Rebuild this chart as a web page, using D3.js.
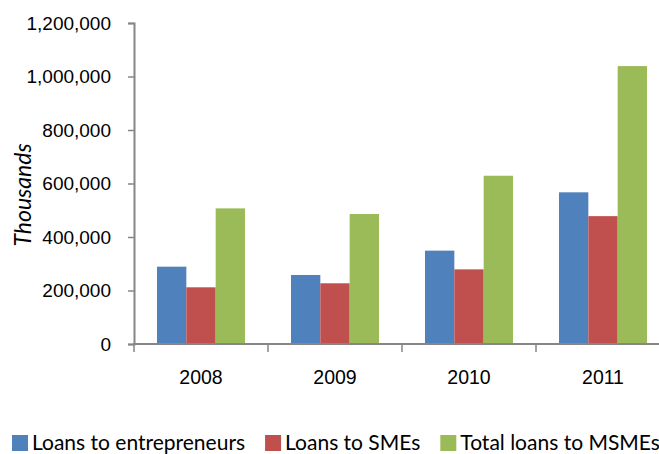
<!DOCTYPE html>
<html>
<head>
<meta charset="utf-8">
<script src="https://cdn.jsdelivr.net/npm/d3@7"></script>
<style>
  body { margin: 0; background: #fff; }
  svg { display: block; font-family: Lato, "Open Sans", sans-serif; }
</style>
</head>
<body>
<div id="chart"></div>
<script>
// data (thousands)
const years = ["2008", "2009", "2010", "2011"];
const seriesNames = ["Loans to entrepreneurs", "Loans to SMEs", "Total loans to MSMEs"];
const entrepreneurs = [289000, 258000, 349000, 567000];
const smes = [212000, 227000, 279000, 478000];
const msmes = [507000, 486000, 629000, 1039000];
const yTicks = [0, 200000, 400000, 600000, 800000, 1000000, 1200000];
const colors = ["#4F81BD", "#C0504D", "#9BBB59"];

const width = 659, height = 454;
const axisColor = "#868686";

const rows = years.map((y, i) => ({
    year: y,
    values: [entrepreneurs[i], smes[i], msmes[i]]
}));

const svg = d3.select("#chart")
    .append("svg")
    .attr("width", width)
    .attr("height", height);

// scales - plot is cut off on the right, like the picture
const x0 = d3.scaleBand()
    .domain(years)
    .range([134, 670])
    .paddingInner(46 / 134)
    .paddingOuter(23 / 134);

const x1 = d3.scaleBand()
    .domain(d3.range(seriesNames.length))
    .range([0, x0.bandwidth()]);

const yScale = d3.scaleLinear()
    .domain([0, 1200000])
    .range([344, 23]);

// bars
const groups = svg.selectAll(".year")
    .data(rows)
    .join("g")
    .attr("class", "year")
    .attr("transform", d => `translate(${x0(d.year)},0)`);

groups.selectAll("rect")
    .data(d => d.values.map((v, k) => ({ k, v })))
    .join("rect")
    .attr("x", d => x1(d.k))
    .attr("y", d => yScale(d.v))
    .attr("width", x1.bandwidth())
    .attr("height", d => yScale(0) - yScale(d.v))
    .attr("fill", d => colors[d.k]);

// y axis
const leftAxis = d3.axisLeft(yScale)
    .tickValues(yTicks)
    .tickSize(6)
    .tickPadding(17)
    .tickFormat(d3.format(","));

const yAxis = svg.append("g")
    .attr("class", "y-axis")
    .attr("transform", "translate(134,0)")
    .call(leftAxis);

yAxis.select(".domain").attr("stroke", axisColor).attr("stroke-width", 2);
yAxis.selectAll(".tick line").attr("stroke", axisColor).attr("stroke-width", 1.5);
yAxis.selectAll(".tick text")
    .style("font-size", "19px")
    .attr("fill", "#000");

// x axis: labels at centers, ticks at category boundaries
const bottomAxis = d3.axisBottom(x0)
    .tickSize(0)
    .tickPadding(26);

const xAxis = svg.append("g")
    .attr("class", "x-axis")
    .attr("transform", `translate(0,${yScale(0)})`)
    .call(bottomAxis);

xAxis.select(".domain").remove();
xAxis.selectAll(".tick text")
    .style("font-size", "19.5px")
    .attr("fill", "#000");

xAxis.append("line")
    .attr("x1", 133)
    .attr("x2", width)
    .attr("stroke", axisColor)
    .attr("stroke-width", 2);

const step = x0.step();
const bounds = years.map(y => x0(y) - step * x0.paddingOuter());
xAxis.selectAll(".bound")
    .data(bounds)
    .join("line")
    .attr("class", "bound")
    .attr("x1", d => d)
    .attr("x2", d => d)
    .attr("y1", 0)
    .attr("y2", 8)
    .attr("stroke", axisColor)
    .attr("stroke-width", 1.5);

// y axis label
svg.append("text")
    .attr("transform", "translate(31,195) rotate(-90)")
    .attr("text-anchor", "middle")
    .style("font-size", "23px")
    .style("font-style", "italic")
    .attr("fill", "#000")
    .text("Thousands");

// legend
const legend = svg.append("g").attr("class", "legend");
let lx = 12;
seriesNames.forEach((name, k) => {
    legend.append("rect")
        .attr("x", lx)
        .attr("y", 435)
        .attr("width", 16)
        .attr("height", 16)
        .attr("fill", colors[k]);
    const t = legend.append("text")
        .attr("x", lx + 20)
        .attr("y", 450)
        .style("font-size", "21px")
        .attr("fill", "#000")
        .text(name);
    lx += 20 + t.node().getComputedTextLength() + 20;
});
</script>
</body>
</html>
